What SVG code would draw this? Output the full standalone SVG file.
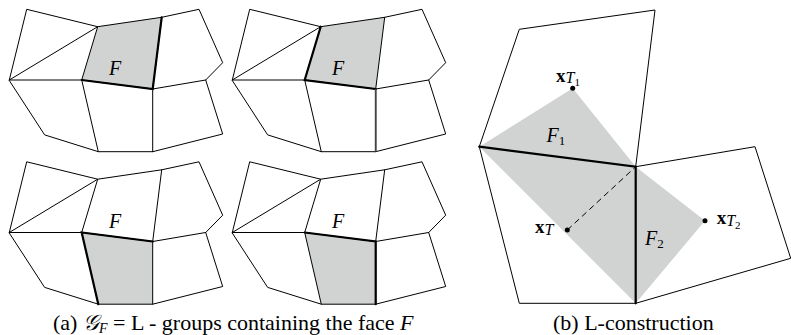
<svg xmlns="http://www.w3.org/2000/svg" xmlns:xlink="http://www.w3.org/1999/xlink" width="791" height="335" viewBox="0 0 791 335">
<style>
.thin{fill:none;stroke:#000;stroke-width:1;stroke-linejoin:round;stroke-linecap:round}
.thick{fill:none;stroke:#000;stroke-width:2.2;stroke-linecap:round}
.shade{fill:#d1d3d3;stroke:none}
.lbl{font-family:"Liberation Serif",serif;font-style:italic;font-size:20px}
.cap{font-family:"Liberation Serif",serif;font-size:22px}
.bx{font-family:"Liberation Serif",serif;font-weight:bold;font-size:19px}
.it{font-family:"Liberation Serif",serif;font-style:italic}
.rm{font-family:"Liberation Serif",serif}
</style>
<defs>
<g id="mesh">
<polygon class="thin" points="9.3,80 26.7,9.3 97.7,26.7 161.7,17.3 199,9.3 222.7,62.7 205.7,80 222.7,134 152.7,151.7 98.3,151.7 45,135"/>
<polyline class="thin" points="9.3,80 97.7,26.7 81.7,80 9.3,80"/>
<line class="thin" x1="161.7" y1="17.3" x2="152.7" y2="89"/>
<line class="thin" x1="81.7" y1="80" x2="152.7" y2="89"/>
<line class="thin" x1="152.7" y1="89" x2="205.7" y2="80"/>
<line class="thin" x1="81.7" y1="80" x2="98.3" y2="151.7"/>
<line class="thin" x1="152.7" y1="89" x2="152.7" y2="151.7"/>
</g>
</defs>
<g id="mesh-top-left">
<polygon class="shade" points="97.7,26.7 161.7,17.3 152.7,89 81.7,80"/>
<use xlink:href="#mesh"/>
<polyline class="thick" points="81.7,80 152.7,89 161.7,17.3"/>
<text class="lbl" x="109" y="75">F</text>
</g>
<g id="mesh-top-right" transform="translate(223,0)">
<polygon class="shade" points="97.7,26.7 161.7,17.3 152.7,89 81.7,80"/>
<use xlink:href="#mesh"/>
<polyline class="thick" points="97.7,26.7 81.7,80 152.7,89"/>
<line x1="152.7" y1="89" x2="152.7" y2="151.7" stroke="#444" stroke-width="1.8"/>
<text class="lbl" x="109" y="75">F</text>
</g>
<g id="mesh-bottom-left" transform="translate(0,152.5)">
<polygon class="shade" points="81.7,80 152.7,89 152.7,151.7 98.3,151.7"/>
<use xlink:href="#mesh"/>
<polyline class="thick" points="98.3,151.7 81.7,80 152.7,89"/>
<text class="lbl" x="109" y="75">F</text>
</g>
<g id="mesh-bottom-right" transform="translate(223,152.5)">
<polygon class="shade" points="81.7,80 152.7,89 152.7,151.7 98.3,151.7"/>
<use xlink:href="#mesh"/>
<polyline class="thick" points="81.7,80 152.7,89 152.7,151.7"/>
<text class="lbl" x="109" y="75">F</text>
</g>
<g id="l-construction">
<polygon class="shade" points="479.3,146.7 572.7,88.3 635.7,166.7 705,220.7 635.7,303.3"/>
<polyline class="thin" points="479.3,146.7 519.3,29.3 655,10 635.7,166.7"/>
<polyline class="thin" points="479.3,146.7 519.3,303.3 635.7,303.3"/>
<polyline class="thin" points="635.7,166.7 755,146.7 790.7,258.3 635.7,303.3"/>
</g>
<g id="connectors">
<polyline class="thick" points="479.3,146.7 635.7,166.7 635.7,303.3"/>
<line x1="567.3" y1="230" x2="635.7" y2="166.7" stroke="#000" stroke-width="1" stroke-dasharray="6,4"/>
</g>
<g id="points">
<circle cx="572.7" cy="88.3" r="2.5"/>
<circle cx="567.3" cy="230" r="2.5"/>
<circle cx="705" cy="220.7" r="2.5"/>
<text x="556" y="81.7"><tspan class="bx">x</tspan><tspan class="it" font-size="16" dy="1.6">T</tspan><tspan class="rm" font-size="11" dy="3">1</tspan></text>
<text x="535" y="233"><tspan class="bx">x</tspan><tspan class="it" font-size="16" dy="1.6">T</tspan></text>
<text x="716.7" y="224"><tspan class="bx">x</tspan><tspan class="it" font-size="16" dy="1.6">T</tspan><tspan class="rm" font-size="11" dy="3">2</tspan></text>
<text x="546.5" y="141.7"><tspan class="it" font-size="20">F</tspan><tspan class="rm" font-size="13" dy="3">1</tspan></text>
<text x="645" y="245"><tspan class="it" font-size="20">F</tspan><tspan class="rm" font-size="13" dy="3">2</tspan></text>
</g>
<g id="captions">
<text class="cap" x="53" y="330">(a) <tspan font-family="DejaVu Serif,serif" font-style="italic">𝒢</tspan><tspan class="it" font-size="14" dy="3">F</tspan><tspan dy="-3"> = L - groups containing the face </tspan><tspan class="it">F</tspan></text>
<text class="cap" x="553" y="330">(b) L-construction</text>
</g>
</svg>
